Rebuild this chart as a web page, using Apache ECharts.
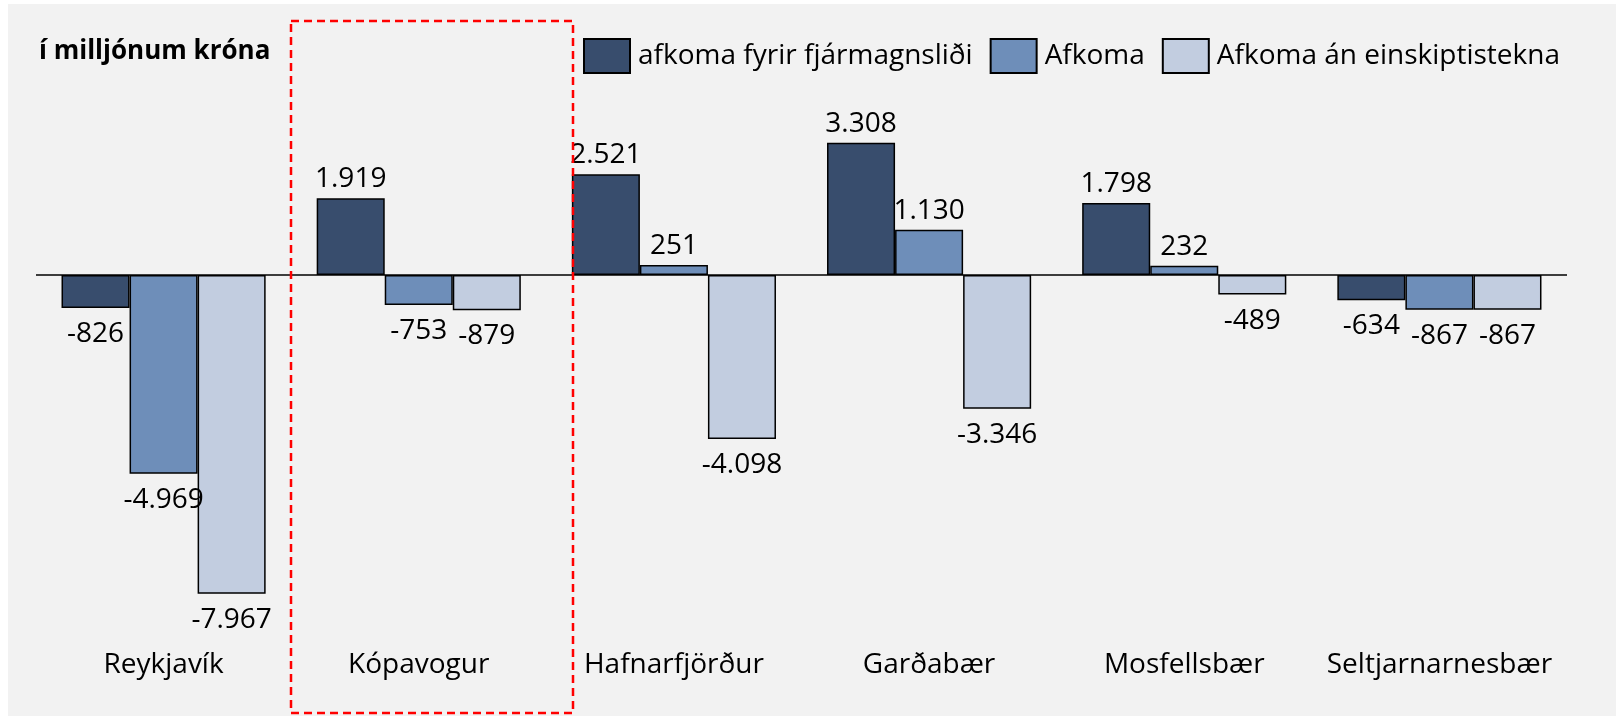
<!DOCTYPE html>
<html>
<head>
<meta charset="utf-8">
<script src="https://cdn.jsdelivr.net/npm/echarts@6/dist/echarts.min.js"></script>
<style>
  html, body { margin: 0; padding: 0; background: #fff; }
  #chart { width: 1616px; height: 716px; }
</style>
</head>
<body>
<div id="chart"></div>
<script>
// sveitarfélög
const categories = ['Reykjavík', 'Kópavogur', 'Hafnarfjörður', 'Garðabær', 'Mosfellsbær', 'Seltjarnarnesbær'];
const seriesNames = ['afkoma fyrir fjármagnsliði', 'Afkoma', 'Afkoma án einskiptistekna'];
const fyrirFjarmagnslidi = [-826, 1919, 2521, 3308, 1798, -634];
const afkoma = [-4969, -753, 251, 1130, 232, -867];
const anEinskiptistekna = [-7967, -879, -4098, -3346, -489, -867];
const colors = ['#384d6d', '#6e8eb9', '#c2cde0'];

const FONT = '"Open Sans", "Noto Sans", sans-serif';

// 1.919 / -7.967
function fmt(v) {
  const s = Math.abs(v).toString().replace(/\B(?=(\d{3})+(?!\d))/g, '.');
  return (v < 0 ? '-' : '') + s;
}

function barData(values) {
  return values.map(v => ({
    value: v,
    label: v < 0 ? { position: 'bottom', distance: 12 } : { position: 'top', distance: 5 },
  }));
}

function barSeries(name, values, color, extra = {}) {
  return Object.assign({
    name: name,
    type: 'bar',
    data: barData(values),
    barGap: '0%',
    barCategoryGap: '20%',
    itemStyle: { color: color, borderColor: '#000', borderWidth: 1.5 },
    label: {
      show: true,
      fontFamily: FONT,
      fontSize: 28,
      color: '#000',
      formatter: p => fmt(p.value),
    },
  }, extra);
}

const chart = echarts.init(document.getElementById('chart'));
chart.setOption({
  backgroundColor: '#fff',
  animation: false,
  title: {
    text: 'í milljónum króna',
    left: 34,
    top: 34,
    textStyle: { fontFamily: FONT, fontSize: 26, fontWeight: 'bold', color: '#000' },
  },
  legend: {
    left: 578,
    top: 33,
    itemWidth: 46,
    itemHeight: 34,
    itemGap: 17,
    icon: 'rect',
    textStyle: { fontFamily: FONT, fontSize: 28, color: '#000', padding: [0, 0, 0, 3] },
    data: seriesNames,
  },
  grid: { left: 36, right: 49, top: 75, bottom: 81 },
  xAxis: {
    type: 'category',
    data: categories,
    axisLine: { show: false, onZero: false },
    axisTick: { show: false },
    axisLabel: { interval: 0, fontFamily: FONT, fontSize: 28, color: '#000', margin: 16 },
  },
  yAxis: {
    type: 'value',
    min: -9000,
    max: 5000,
    show: false,
    splitLine: { show: false },
  },
  graphic: [
    {
      type: 'rect',
      z: -100,
      silent: true,
      shape: { x: 8, y: 4, width: 1608, height: 712 },
      style: { fill: '#f2f2f2' },
    },
    {
      type: 'rect',
      z: 100,
      silent: true,
      shape: { x: 291, y: 21, width: 282, height: 692 },
      style: { fill: 'none', stroke: '#ff0000', lineWidth: 2.5, lineDash: [8, 5] },
    },
  ],
  series: [
    barSeries(seriesNames[0], fyrirFjarmagnslidi, colors[0], {
      markLine: {
        silent: true,
        symbol: 'none',
        label: { show: false },
        lineStyle: { color: '#000', width: 1.5, type: 'solid' },
        data: [{ yAxis: 0 }],
      },
    }),
    barSeries(seriesNames[1], afkoma, colors[1]),
    barSeries(seriesNames[2], anEinskiptistekna, colors[2]),
  ],
});
</script>
</body>
</html>
